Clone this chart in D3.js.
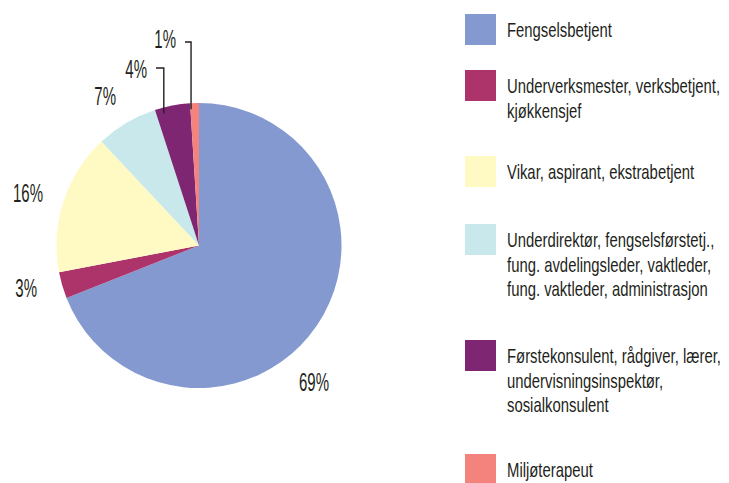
<!DOCTYPE html>
<html>
<head>
<meta charset="utf-8">
<script src="https://cdn.jsdelivr.net/npm/d3@7"></script>
<style>
  body { margin: 0; background: #fff; }
  text { font-family: "Liberation Sans", Arial, sans-serif; fill: #231f20; }
</style>
</head>
<body>
<div id="chart"></div>
<script>
// data
const categories = [
  "Fengselsbetjent",
  "Underverksmester, verksbetjent,|kjøkkensjef",
  "Vikar, aspirant, ekstrabetjent",
  "Underdirektør, fengselsførstetj.,|fung. avdelingsleder, vaktleder,|fung. vaktleder, administrasjon",
  "Førstekonsulent, rådgiver, lærer,|undervisningsinspektør,|sosialkonsulent",
  "Miljøterapeut"
];
const values = [69, 3, 16, 7, 4, 1];
const colors = ["#8399d0", "#ad346b", "#fffac4", "#c9e8eb", "#7e2672", "#f4837d"];
const legendTops = [14, 70, 156, 224, 340, 454];

// label placement (right edge / baseline, relative to pie centre), leader lines for small slices
const labelPos = [[130, 145.5], [-162, 51.5], [-156, -43.5], [-83, -140.5], [-52, -167.5], [-23, -197.5]];
const leaderAngle = [null, null, null, null, -14.3, -3.2];   // degrees from 12 o'clock
const leaderY = [null, null, null, null, -177.5, -203.5];

const width = 729, height = 483;
const cx = 199, cy = 245.5, r = 142.5;

const svg = d3.select("#chart").append("svg")
    .attr("width", width)
    .attr("height", height);

const pie = d3.pie().sort(null).value(d => d)(values);
const arc = d3.arc().innerRadius(0).outerRadius(r);

const g = svg.append("g").attr("transform", `translate(${cx},${cy})`);

g.selectAll("path")
  .data(pie)
  .join("path")
    .attr("d", arc)
    .attr("fill", (d, i) => colors[i]);

// the original uses a very condensed face; squeeze to match measured widths
function measure(str, size) {
  const t = svg.append("text").attr("font-size", size).text(str);
  const w = t.node().getComputedTextLength();
  t.remove();
  return w;
}
const legSx = 105 / measure("Fengselsbetjent", 20);
const labSx = 30 / measure("16%", 25);

function ctext(parent, x, y, str, size, sx, anchor) {
  return parent.append("text")
    .attr("transform", `translate(${x},${y}) scale(${sx},1)`)
    .attr("font-size", size)
    .attr("text-anchor", anchor || "start")
    .text(str);
}

// percentage labels
pie.forEach((d, i) => {
  ctext(g, labelPos[i][0], labelPos[i][1], values[i] + "%", 25, labSx, "end");
  if (leaderAngle[i] !== null) {
    const a = leaderAngle[i] * Math.PI / 180;
    const lx = r * Math.sin(a);
    const ly = -r * Math.cos(a) + 6;
    g.append("path")
      .attr("d", `M${labelPos[i][0] + 9},${leaderY[i]}H${lx}V${ly}`)
      .attr("fill", "none")
      .attr("stroke", "#231f20")
      .attr("stroke-width", 1.4);
  }
});

// legend
const legend = svg.append("g");
categories.forEach((c, i) => {
  legend.append("rect")
    .attr("x", 465)
    .attr("y", legendTops[i])
    .attr("width", 31)
    .attr("height", 31)
    .attr("fill", colors[i]);
  c.split("|").forEach((line, j) => {
    ctext(legend, 507, legendTops[i] + 23 + j * 24.5, line, 20, legSx);
  });
});
</script>
</body>
</html>
